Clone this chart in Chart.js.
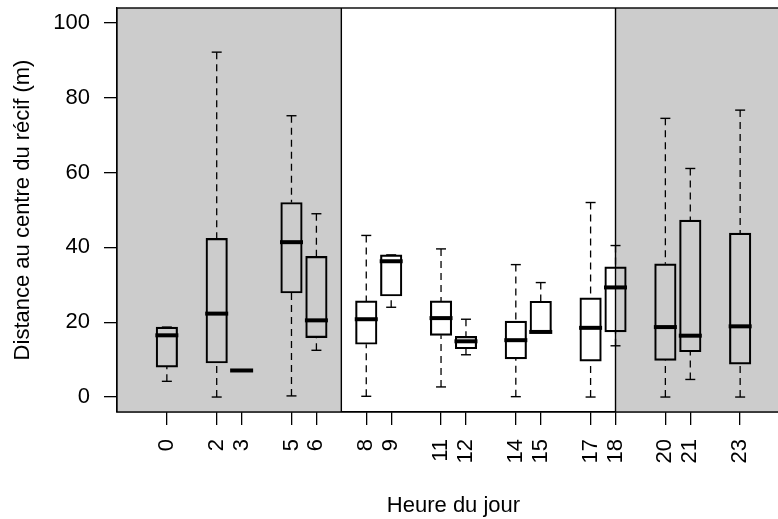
<!DOCTYPE html>
<html>
<head>
<meta charset="utf-8">
<script src="https://cdn.jsdelivr.net/npm/chart.js@4/dist/chart.umd.min.js"></script>
<style>
html, body { margin: 0; padding: 0; overflow: hidden; background: #fff; width: 778px; height: 519px; }
#wrap { width: 790px; height: 519px; }
canvas { display: block; }
</style>
</head>
<body>
<div id="wrap"><canvas id="c" width="790" height="519"></canvas></div>
<script>
// ---- data ----
const hours       = [0, 2, 3, 5, 6, 8, 9, 11, 12, 14, 15, 17, 18, 20, 21, 23];
const whiskerLow  = [4.2, 0.0, 7.1, 0.3, 12.5, 0.2, 24.0, 2.7, 11.3, 0.1, 17.4, 0.0, 13.7, 0.0, 4.7, 0.0];
const quart1      = [8.0, 9.1, 7.1, 27.8, 15.9, 14.1, 27.0, 16.5, 12.9, 10.2, 17.4, 9.6, 17.4, 9.8, 12.1, 8.8];
const medians     = [16.5, 22.3, 7.1, 41.4, 20.5, 20.8, 36.3, 21.1, 14.9, 15.2, 17.4, 18.5, 29.3, 18.7, 16.4, 18.9];
const quart3      = [18.7, 42.4, 7.1, 52.0, 37.6, 25.7, 38.0, 25.7, 16.2, 20.3, 25.6, 26.5, 34.8, 35.6, 47.3, 43.8];
const whiskerHigh = [18.7, 92.2, 7.1, 75.2, 49.0, 43.2, 38.0, 39.6, 20.8, 35.4, 30.6, 52.0, 40.5, 74.5, 61.1, 76.7];
const yTickValues = [0, 20, 40, 60, 80, 100];
const nightBands  = [[-2, 7], [18, 25]];
const xTitle = 'Heure du jour';
const yTitle = 'Distance au centre du récif (m)';

const FONT = "'Liberation Sans', Arial, Helvetica, sans-serif";

const boxData = hours.map((h, i) => ({ x: h, y: [quart1[i], quart3[i]] }));
const whiskerData = [];
hours.forEach((h, i) => {
  whiskerData.push({ x: h, y: whiskerHigh[i] }, { x: h, y: quart3[i] }, { x: h, y: null });
  whiskerData.push({ x: h, y: whiskerLow[i] }, { x: h, y: quart1[i] }, { x: h, y: null });
});
const capData = [];
hours.forEach((h, i) => {
  capData.push({ x: h, y: whiskerHigh[i] }, { x: h, y: whiskerLow[i] });
});
const medianData = hours.map((h, i) => ({ x: h, y: medians[i] }));

const nightPlugin = {
  id: 'night',
  beforeDatasetsDraw(chart) {
    const { ctx, chartArea: a, scales: { x } } = chart;
    ctx.save();
    ctx.beginPath();
    ctx.rect(a.left, a.top, a.right - a.left, a.bottom - a.top);
    ctx.clip();
    ctx.fillStyle = '#cccccc';
    nightBands.forEach(([s, e]) => {
      const x0 = x.getPixelForValue(s), x1 = x.getPixelForValue(e);
      ctx.fillRect(x0, a.top, x1 - x0, a.bottom - a.top);
    });
    ctx.restore();
  },
  afterDatasetsDraw(chart) {
    const { ctx, chartArea: a, scales: { x } } = chart;
    ctx.save();
    ctx.strokeStyle = '#000';
    ctx.lineWidth = 1.4;
    nightBands.forEach(([s, e]) => {
      [s, e].forEach(v => {
        const px = x.getPixelForValue(v);
        if (px > a.left + 1 && px < a.right - 1) {
          ctx.beginPath();
          ctx.moveTo(px, a.top);
          ctx.lineTo(px, a.bottom);
          ctx.stroke();
        }
      });
    });
    ctx.strokeRect(a.left, a.top, a.right - a.left, a.bottom - a.top);
    ctx.restore();
  }
};

new Chart(document.getElementById('c'), {
  type: 'bar',
  data: {
    datasets: [
      {
        type: 'bar', data: boxData, order: 4,
        backgroundColor: 'rgba(0,0,0,0)', borderColor: '#000', borderWidth: 1.5,
        borderSkipped: false, barThickness: 21.5
      },
      {
        type: 'line', data: whiskerData, order: 3,
        borderColor: '#000', borderWidth: 1.3, borderDash: [7, 5],
        pointRadius: 0, spanGaps: false, fill: false, tension: 0
      },
      {
        type: 'scatter', data: capData, order: 2,
        pointStyle: 'line', pointRadius: 5, borderColor: '#000', pointBorderWidth: 1.4, borderWidth: 1.4
      },
      {
        type: 'scatter', data: medianData, order: 1,
        pointStyle: 'line', pointRadius: 11.5, borderColor: '#000', pointBorderWidth: 4, borderWidth: 4
      }
    ]
  },
  options: {
    responsive: false,
    devicePixelRatio: 1,
    animation: false,
    layout: { autoPadding: false, padding: { top: 8, left: 0, right: 0, bottom: 0 } },
    plugins: { legend: { display: false }, tooltip: { enabled: false } },
    scales: {
      x: {
        type: 'linear', min: -2, max: 25, offset: false,
        afterBuildTicks: s => { s.ticks = hours.map(v => ({ value: v })); },
        afterFit: s => { s.height = 107; s.paddingLeft = 0; s.paddingRight = 0; },
        grid: { offset: false, drawOnChartArea: false, drawTicks: true, tickLength: 13, color: '#000', lineWidth: 1.3 },
        border: { display: true, color: '#000', width: 1.3 },
        ticks: {
          autoSkip: false, minRotation: 90, maxRotation: 90, padding: 14,
          color: '#000', font: { family: FONT, size: 22 },
          callback: v => String(v)
        },
        title: {
          display: true, text: xTitle, color: '#000',
          font: { family: FONT, size: 22, lineHeight: 1.2 }, padding: { top: 0, bottom: 0 }
        }
      },
      y: {
        type: 'linear', min: -4, max: 104,
        afterBuildTicks: s => { s.ticks = yTickValues.map(v => ({ value: v })); },
        afterFit: s => { s.width = 117; s.paddingTop = 0; s.paddingBottom = 0; },
        grid: { drawOnChartArea: false, drawTicks: true, tickLength: 13, color: '#000', lineWidth: 1.3 },
        border: { display: true, color: '#000', width: 1.3 },
        ticks: {
          padding: 14, color: '#000', font: { family: FONT, size: 22 },
          callback: v => String(v)
        },
        title: {
          display: true, text: yTitle, color: '#000',
          font: { family: FONT, size: 22, lineHeight: 1.2 }, padding: { top: 10, bottom: 0 }
        }
      }
    }
  },
  plugins: [nightPlugin]
});
</script>
</body>
</html>
